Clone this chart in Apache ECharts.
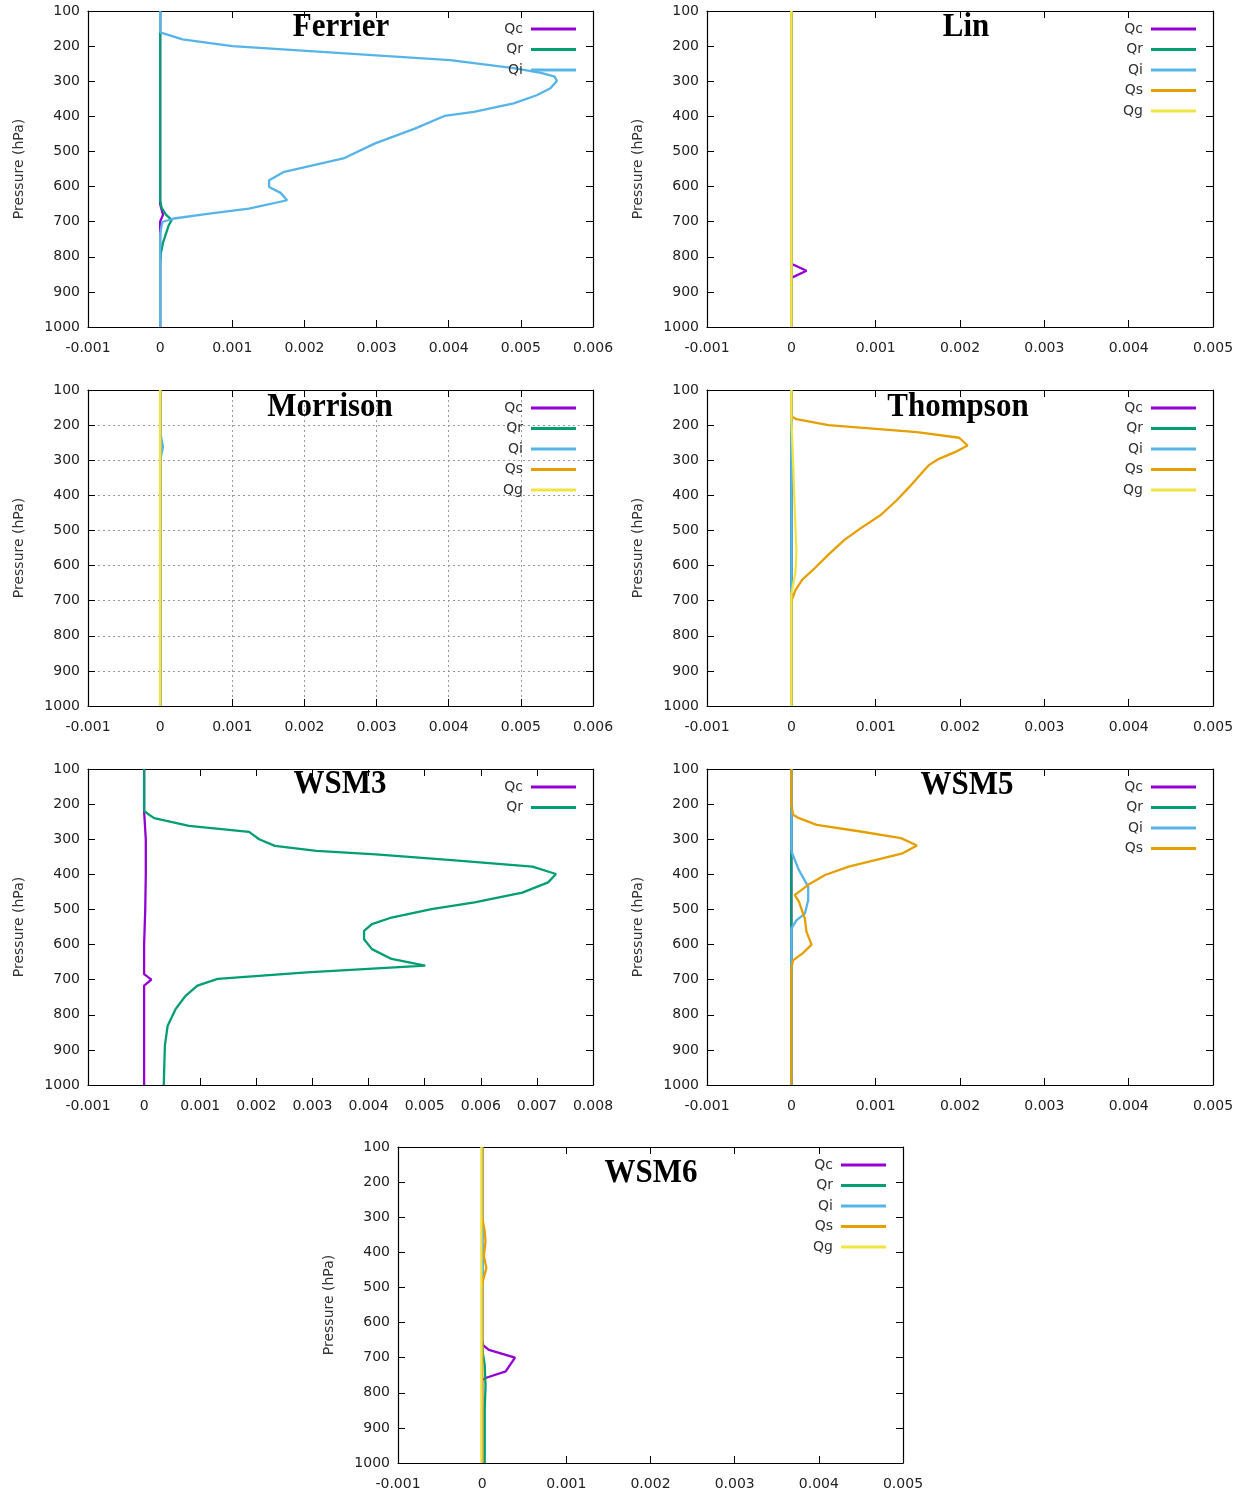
<!DOCTYPE html>
<html>
<head>
<meta charset="utf-8">
<script src="https://cdn.jsdelivr.net/npm/echarts@6/dist/echarts.min.js"></script>
<style>
html,body{margin:0;padding:0;background:#fff;}
#chart{width:1250px;height:1496px;}
</style>
</head>
<body>
<div id="chart"></div>
<script>
// ---------- DATA (pressure levels in hPa, mixing ratios) ----------
const pressureTicks = [100,200,300,400,500,600,700,800,900,1000];

// Ferrier
const ferrierQcP = [100, 650, 665, 680, 700, 1000];
const ferrierQc  = [0, 0, 0.00002, 0.00004, 0, 0];
const ferrierQrP = [100, 640, 660, 680, 695, 710, 735, 760, 790, 820, 1000];
const ferrierQr  = [0, 0, 0.00002, 0.00008, 0.00016, 0.00012, 0.00008, 0.00004, 0.00001, 0, 0];
const ferrierQiP = [100, 161, 181, 200, 240, 263, 276, 287, 299, 320, 340, 363, 387, 399, 435, 477, 520, 558, 582, 601, 618, 639, 663, 677, 691, 701, 734, 1000];
const ferrierQi  = [0, 0, 0.00031, 0.00100, 0.00402, 0.00490, 0.00528, 0.00547, 0.00550, 0.00541, 0.00522, 0.00490, 0.00435, 0.00394, 0.00353, 0.00298, 0.00254, 0.00172, 0.00151, 0.00151, 0.00167, 0.00176, 0.00123, 0.00068, 0.00019, 0.00003, 0, 0];

// Lin
const linQcP = [100, 820, 840, 860, 1000];
const linQc  = [0, 0, 0.00018, 0, 0];
const linQrP = [100, 1000];
const linQr  = [0, 0];
const linQiP = [100, 1000];
const linQi  = [0, 0];
const linQsP = [100, 1000];
const linQs  = [0, 0];
const linQgP = [100, 1000];
const linQg  = [0, 0];

// Morrison
const morrisonQcP = [100, 1000];
const morrisonQc  = [0, 0];
const morrisonQrP = [100, 1000];
const morrisonQr  = [0, 0];
const morrisonQiP = [100, 220, 262, 300, 1000];
const morrisonQi  = [0, 0, 0.00004, 0, 0];
const morrisonQsP = [100, 1000];
const morrisonQs  = [0, 0];
const morrisonQgP = [100, 1000];
const morrisonQg  = [0, 0];

// Thompson
const thompsonQcP = [100, 1000];
const thompsonQc  = [0, 0];
const thompsonQrP = [100, 1000];
const thompsonQr  = [0, 0];
const thompsonQiP = [100, 1000];
const thompsonQi  = [0, 0];
const thompsonQsP = [100, 175, 183, 200, 220, 236, 258, 277, 296, 314, 333, 376, 414, 456, 494, 527, 569, 607, 640, 669, 702, 1000];
const thompsonQs  = [0, 0, 0.00006, 0.00044, 0.00149, 0.00199, 0.00209, 0.00194, 0.00175, 0.00163, 0.00156, 0.00140, 0.00125, 0.00106, 0.00082, 0.00063, 0.00044, 0.00028, 0.00013, 0.00005, 0, 0];
const thompsonQgP = [100, 180, 300, 437, 560, 617, 683, 1000];
const thompsonQg  = [0, 0, 0.00002, 0.00004, 0.00006, 0.00005, 0, 0];

// WSM3
const wsm3QcP = [100, 220, 300, 400, 500, 600, 684, 700, 717, 1000];
const wsm3Qc  = [0, 0, 0.00003, 0.00003, 0.00002, 0, 0, 0.00013, 0, 0];
const wsm3QrP = [100, 219, 228, 240, 262, 279, 300, 319, 333, 343, 360, 378, 399, 423, 452, 480, 499, 523, 542, 561, 585, 613, 641, 660, 679, 698, 717, 746, 784, 831, 888, 1000];
const wsm3Qr  = [0, 0, 0.00007, 0.00018, 0.00080, 0.00187, 0.00205, 0.00233, 0.00307, 0.00413, 0.00554, 0.00692, 0.00734, 0.00720, 0.00674, 0.00589, 0.00512, 0.00441, 0.00406, 0.00392, 0.00392, 0.00406, 0.00441, 0.00501, 0.00290, 0.00131, 0.00095, 0.00074, 0.00056, 0.00042, 0.00037, 0.00035];

// WSM5
const wsm5QcP = [100, 1000];
const wsm5Qc  = [0, 0];
const wsm5QrP = [100, 1000];
const wsm5Qr  = [0, 0];
const wsm5QiP = [100, 330, 340, 388, 435, 474, 512, 531, 555, 1000];
const wsm5Qi  = [0, 0, 0.00001, 0.00009, 0.00020, 0.00020, 0.00016, 0.00006, 0, 0];
const wsm5QsP = [100, 200, 230, 240, 259, 278, 297, 318, 340, 378, 402, 430, 459, 478, 526, 564, 600, 626, 645, 669, 1000];
const wsm5Qs  = [0, 0, 0.00002, 0.00009, 0.00030, 0.00082, 0.00130, 0.00149, 0.00132, 0.00068, 0.00040, 0.00020, 0.00004, 0.00009, 0.00016, 0.00018, 0.00024, 0.00013, 0.00002, 0, 0];

// WSM6
const wsm6QcP = [100, 650, 664, 678, 700, 739, 758, 764, 1000];
const wsm6Qc  = [0, 0, 0.00001, 0.00008, 0.00039, 0.00028, 0.00004, 0, 0];
const wsm6QrP = [100, 660, 690, 720, 780, 850, 1000];
const wsm6Qr  = [0, 0, 0.00001, 0.00003, 0.00004, 0.00003, 0.00003];
const wsm6QiP = [100, 400, 450, 500, 1000];
const wsm6Qi  = [0, 0, 0.00001, 0, 0];
const wsm6QsP = [100, 300, 340, 370, 410, 445, 480, 500, 1000];
const wsm6Qs  = [0, 0, 0.00003, 0.00004, 0.00002, 0.00005, 0.00001, 0, 0];
const wsm6QgP = [100, 1000];
const wsm6Qg  = [-0.00001, -0.00001];

// ---------- STYLE / LAYOUT ----------
const colors = {Qc:'#9400d3', Qr:'#009e73', Qi:'#56b4e9', Qs:'#e69f00', Qg:'#f0e442'};
const FONT = '"DejaVu Sans", Verdana, sans-serif';

const panels = [
  {title:'Ferrier',  box:[88, 11, 505, 316],  xmax:0.006, gridLines:false, titleXY:[341, 27],  legendRight:674,
   series:[['Qc',ferrierQcP,ferrierQc],['Qr',ferrierQrP,ferrierQr],['Qi',ferrierQiP,ferrierQi]]},
  {title:'Lin',      box:[707, 11, 506, 316], xmax:0.005, gridLines:false, titleXY:[966, 27],  legendRight:54,
   series:[['Qc',linQcP,linQc],['Qr',linQrP,linQr],['Qi',linQiP,linQi],['Qs',linQsP,linQs],['Qg',linQgP,linQg]]},
  {title:'Morrison', box:[88, 390, 505, 316], xmax:0.006, gridLines:true,  titleXY:[330, 407], legendRight:674,
   series:[['Qc',morrisonQcP,morrisonQc],['Qr',morrisonQrP,morrisonQr],['Qi',morrisonQiP,morrisonQi],['Qs',morrisonQsP,morrisonQs],['Qg',morrisonQgP,morrisonQg]]},
  {title:'Thompson', box:[707, 390, 506, 316],xmax:0.005, gridLines:false, titleXY:[958, 407], legendRight:54,
   series:[['Qc',thompsonQcP,thompsonQc],['Qr',thompsonQrP,thompsonQr],['Qi',thompsonQiP,thompsonQi],['Qs',thompsonQsP,thompsonQs],['Qg',thompsonQgP,thompsonQg]]},
  {title:'WSM3',     box:[88, 769, 505, 316], xmax:0.008, gridLines:false, titleXY:[340, 784], legendRight:674,
   series:[['Qc',wsm3QcP,wsm3Qc],['Qr',wsm3QrP,wsm3Qr]]},
  {title:'WSM5',     box:[707, 769, 506, 316],xmax:0.005, gridLines:false, titleXY:[967, 785], legendRight:54,
   series:[['Qc',wsm5QcP,wsm5Qc],['Qr',wsm5QrP,wsm5Qr],['Qi',wsm5QiP,wsm5Qi],['Qs',wsm5QsP,wsm5Qs]]},
  {title:'WSM6',     box:[398, 1147, 505, 316],xmax:0.005, gridLines:false, titleXY:[651, 1173], legendRight:364,
   series:[['Qc',wsm6QcP,wsm6Qc],['Qr',wsm6QrP,wsm6Qr],['Qi',wsm6QiP,wsm6Qi],['Qs',wsm6QsP,wsm6Qs],['Qg',wsm6QgP,wsm6Qg]]}
];

function fmtX(v){ return String(parseFloat(Number(v).toFixed(3))); }
function fmtY(v){ return String(Math.round(v)); }

const grid = [], xAxis = [], yAxis = [], series = [], legend = [], graphic = [];
const frameLine = {show:true, onZero:false, lineStyle:{color:'#000', width:1.2}};
const tick = {show:true, inside:true, length:7, lineStyle:{color:'#000', width:1}};

panels.forEach((p, i) => {
  const [l, t, w, h] = p.box;
  grid.push({left:l, top:t, width:w, height:h, containLabel:false});
  xAxis.push({
    gridIndex:i, type:'value', position:'bottom', min:-0.001, max:p.xmax, interval:0.001,
    axisLine:frameLine, axisTick:tick,
    axisLabel:{show:true, margin:14, formatter:fmtX, color:'#222', fontSize:14, fontFamily:FONT},
    splitLine:{show:p.gridLines, lineStyle:{type:[2,3], color:'#9a9a9a', width:1}}
  });
  xAxis.push({
    gridIndex:i, type:'value', position:'top', min:-0.001, max:p.xmax, interval:0.001,
    axisLine:frameLine, axisTick:tick, axisLabel:{show:false}, splitLine:{show:false}
  });
  yAxis.push({
    gridIndex:i, type:'value', position:'left', inverse:true, min:100, max:1000, interval:100,
    name:'Pressure (hPa)', nameLocation:'middle', nameGap:62,
    nameTextStyle:{color:'#333', fontSize:14, fontFamily:FONT},
    axisLine:frameLine, axisTick:tick,
    axisLabel:{show:true, margin:8, formatter:fmtY, color:'#222', fontSize:14, fontFamily:FONT},
    splitLine:{show:p.gridLines, lineStyle:{type:[2,3], color:'#9a9a9a', width:1}}
  });
  yAxis.push({
    gridIndex:i, type:'value', position:'right', inverse:true, min:100, max:1000, interval:100,
    axisLine:frameLine, axisTick:tick, axisLabel:{show:false}, splitLine:{show:false}
  });
  p.series.forEach(([name, pres, vals]) => {
    series.push({
      type:'line', name:name, xAxisIndex:2*i, yAxisIndex:2*i,
      data: vals.map((v, k) => [v, pres[k]]),
      symbol:'none', showSymbol:false, smooth:false, clip:true,
      color:colors[name],
      lineStyle:{color:colors[name], width:2.3},
      emphasis:{disabled:true}
    });
  });
  legend.push({
    data:p.series.map(s => s[0]), orient:'vertical', align:'right',
    right:p.legendRight, top:t + 11, padding:0,
    icon:'rect', itemWidth:45, itemHeight:3, itemGap:6.5,
    selectedMode:false,
    textStyle:{color:'#333', fontSize:14, fontFamily:FONT, lineHeight:14, padding:[0,3,0,0]}
  });
  graphic.push({
    type:'text', x:p.titleXY[0], y:p.titleXY[1], scaleY:1.12, originX:0, originY:0, z:100,
    style:{text:p.title, fill:'#000', font:'bold 31px "Liberation Serif", "Times New Roman", serif',
           textAlign:'center', textVerticalAlign:'middle', align:'center', verticalAlign:'middle'}
  });
});

const chart = echarts.init(document.getElementById('chart'), null, {renderer:'canvas'});
chart.setOption({
  animation:false,
  backgroundColor:'#fff',
  grid, xAxis, yAxis, series, legend, graphic
});
</script>
</body>
</html>
